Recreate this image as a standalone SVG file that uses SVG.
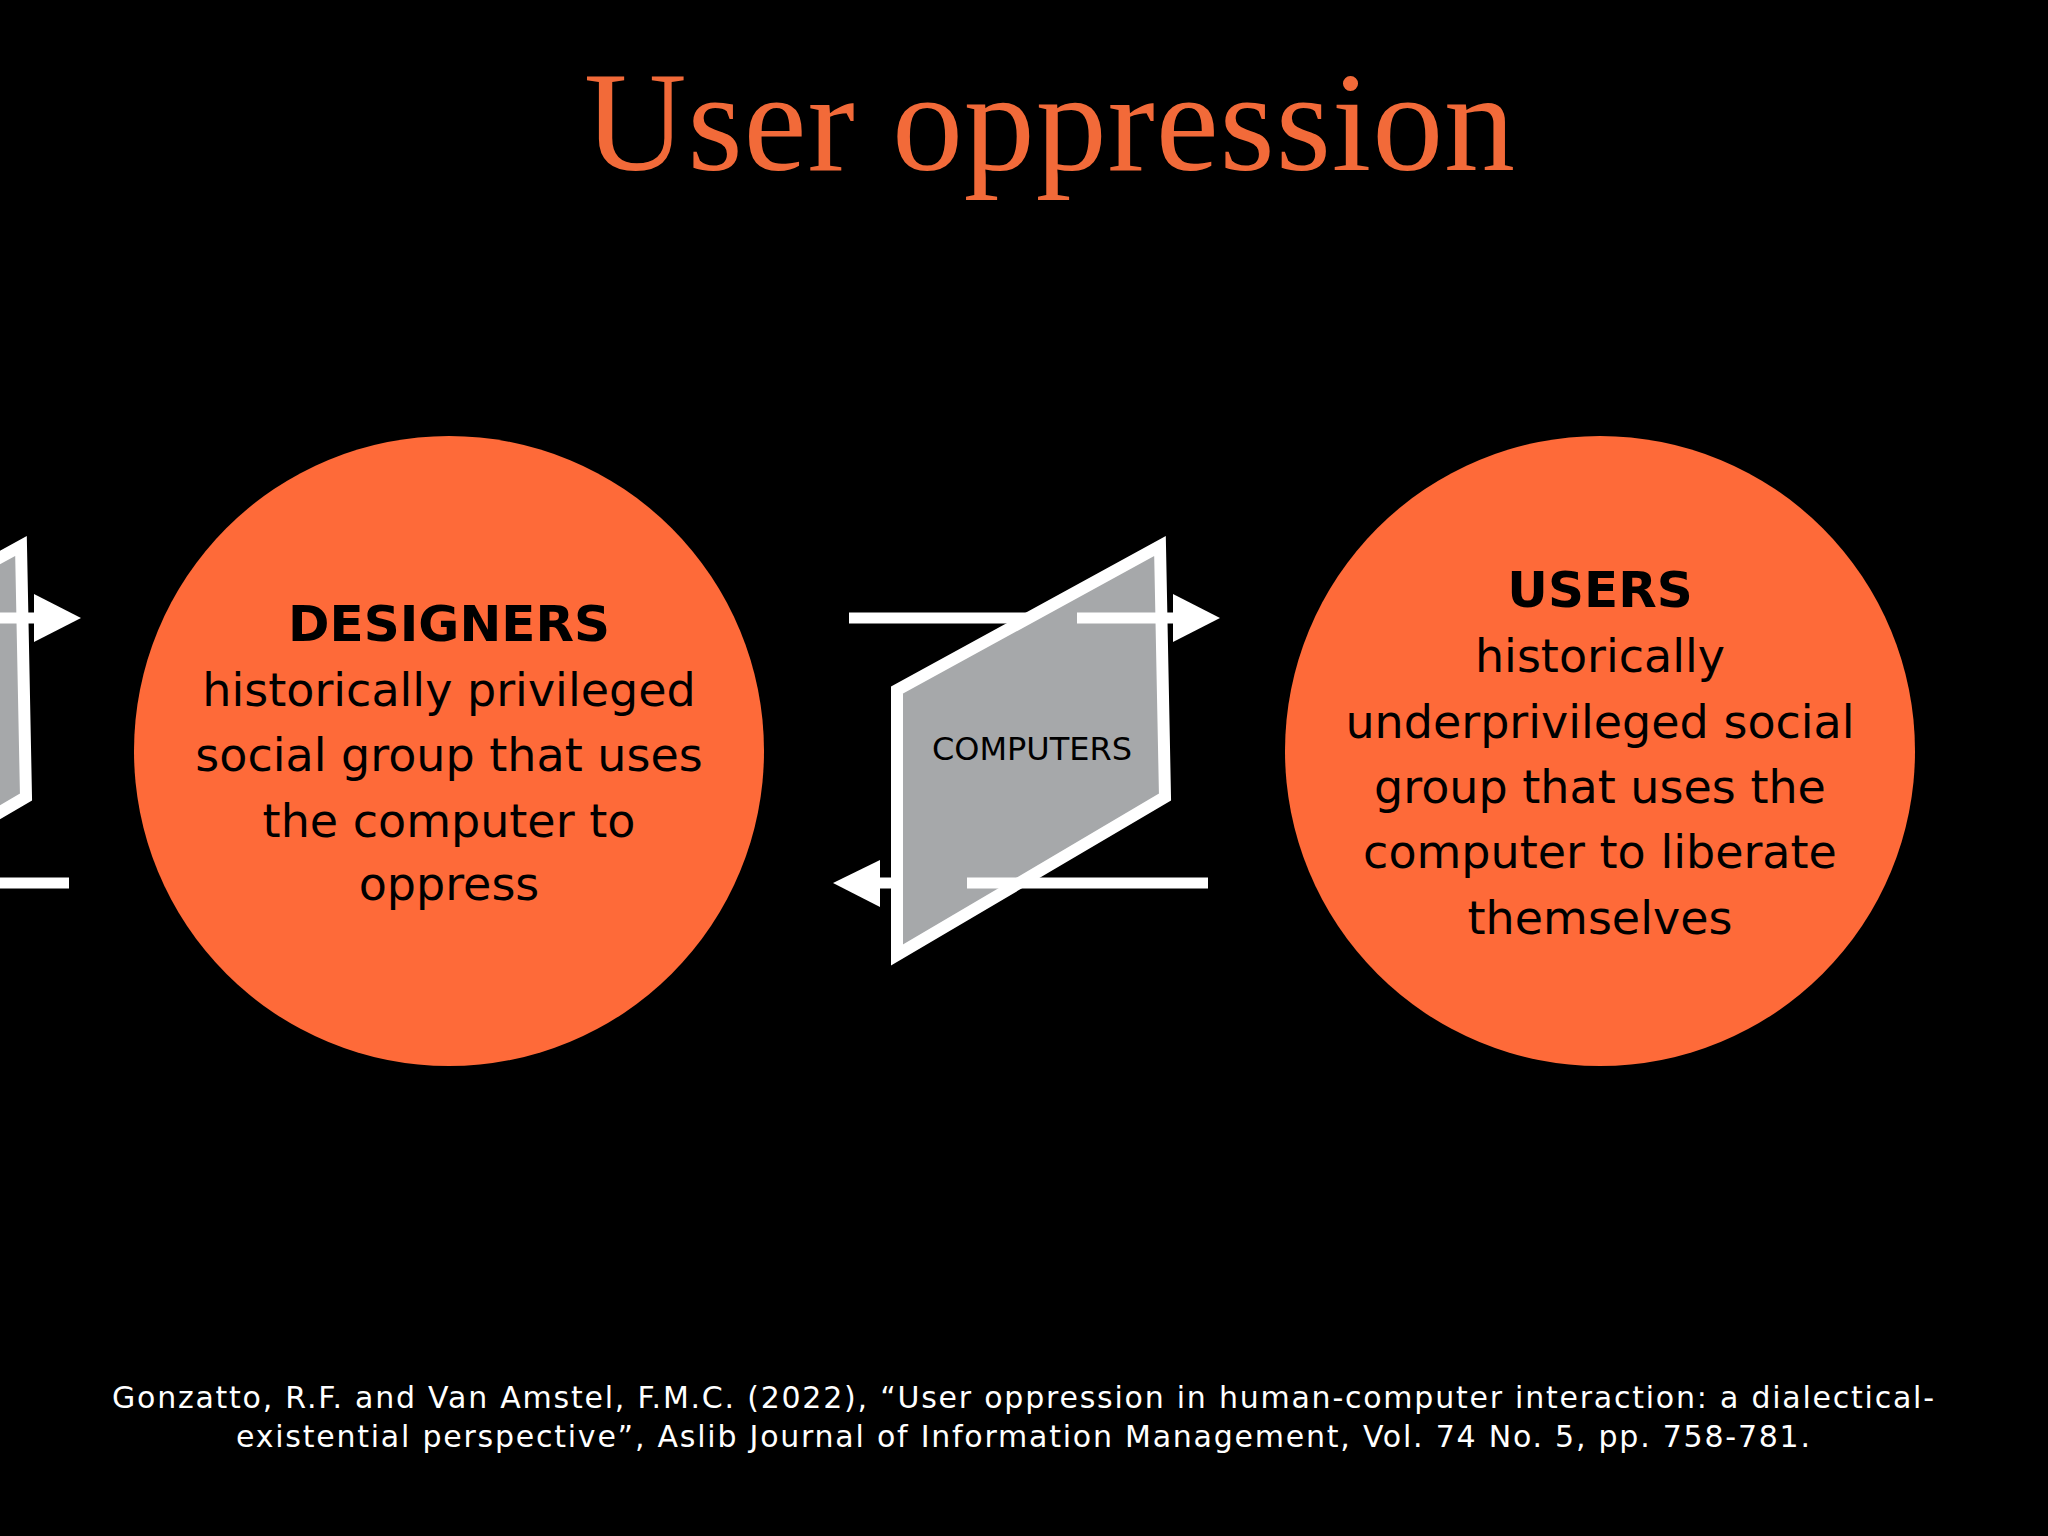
<svg xmlns="http://www.w3.org/2000/svg" xmlns:xlink="http://www.w3.org/1999/xlink" width="2048" height="1536" viewBox="0 0 2048 1536">
<style>
.bg{fill:#000000}
.title{font-family:"Liberation Serif","Times New Roman",serif;font-size:142px;fill:#F26A39}
.circle{fill:#FE6A39}
.head{font-family:"DejaVu Sans",Verdana,sans-serif;font-weight:bold;font-size:50px;fill:#000;text-anchor:middle}
.body{font-family:"DejaVu Sans",Verdana,sans-serif;font-size:46px;fill:#000;text-anchor:middle}
.comp{font-family:"DejaVu Sans",Verdana,sans-serif;font-size:32px;fill:#000;text-anchor:middle}
.cite{font-family:"DejaVu Sans",Verdana,sans-serif;font-size:30px;fill:#FFFFFF;text-anchor:middle}
.wline{stroke:#FFFFFF;stroke-width:11;fill:none}
.whead{fill:#FFFFFF}
.screen{fill:#A6A8AA;stroke:#FFFFFF;stroke-width:12;stroke-linejoin:miter}
</style>
<defs>
<g id="computerShape">
<!-- back lines (behind screen) -->
<line class="wline" x1="849" y1="618" x2="1040" y2="618"/>
<line class="wline" x1="1010" y1="883" x2="878" y2="883"/>
<polygon class="whead" points="880,860 833,883 880,907"/>
<!-- screen -->
<polygon class="screen" points="1160,546 1165,797 897,955 897,690"/>
<!-- front lines -->
<line class="wline" x1="1077" y1="618" x2="1175" y2="618"/>
<polygon class="whead" points="1173,594 1220,618 1173,642"/>
<line class="wline" x1="967" y1="883" x2="1208" y2="883"/>
</g>
</defs>
<rect class="bg" x="0" y="0" width="2048" height="1536"/>
<text id="title" class="title" x="584" y="170" textLength="931" lengthAdjust="spacing">User oppression</text>

<g id="connectors">
<use xlink:href="#computerShape" href="#computerShape" transform="translate(-1139,0)"/>
</g>

<g id="computers">
<use xlink:href="#computerShape" href="#computerShape"/>
<text class="comp" x="1032" y="760">COMPUTERS</text>
</g>

<g id="designers">
<circle class="circle" cx="449" cy="751" r="315"/>
<text class="head" x="449" y="641">DESIGNERS</text>
<text class="body" x="449" y="706">historically privileged</text>
<text class="body" x="449" y="771">social group that uses</text>
<text class="body" x="449" y="837">the computer to</text>
<text class="body" x="449" y="900">oppress</text>
</g>

<g id="users">
<circle class="circle" cx="1600" cy="751" r="315"/>
<text class="head" x="1600" y="607">USERS</text>
<text class="body" x="1600" y="672">historically</text>
<text class="body" x="1600" y="738">underprivileged social</text>
<text class="body" x="1600" y="803">group that uses the</text>
<text class="body" x="1600" y="868">computer to liberate</text>
<text class="body" x="1600" y="934">themselves</text>
</g>

<g id="citation">
<text class="cite" x="1023" y="1408" textLength="1822" lengthAdjust="spacing">Gonzatto, R.F. and Van Amstel, F.M.C. (2022), “User oppression in human-computer interaction: a dialectical-</text>
<text class="cite" x="1023" y="1447" textLength="1574" lengthAdjust="spacing">existential perspective”, Aslib Journal of Information Management, Vol. 74 No. 5, pp. 758-781.</text>
</g>
</svg>
